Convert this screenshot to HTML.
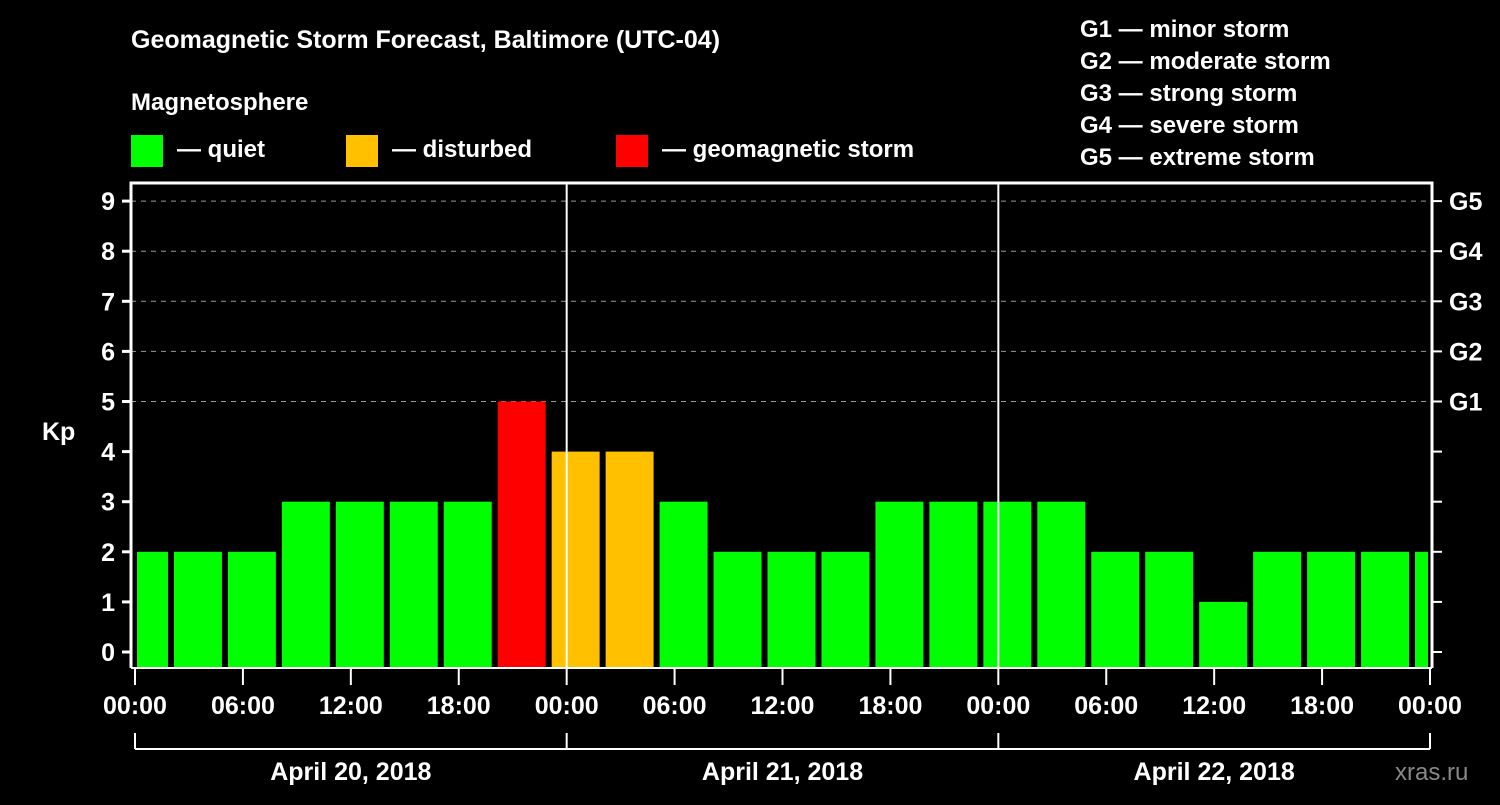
<!DOCTYPE html>
<html><head><meta charset="utf-8"><style>
body{margin:0;background:#000;width:1500px;height:800px;overflow:hidden}
svg text{font-family:"Liberation Sans",Arial,sans-serif;font-weight:bold;fill:#fff}
</style></head><body>
<svg id="chart" width="1500" height="800" xmlns="http://www.w3.org/2000/svg">
<text x="131" y="48" font-size="25">Geomagnetic Storm Forecast, Baltimore (UTC-04)</text>
<text x="131" y="110" font-size="24">Magnetosphere</text>
<g><rect x="131" y="135" width="32" height="32" fill="#00ff00"/><text x="177" y="157" font-size="24">— quiet</text></g>
<g><rect x="346" y="135" width="32" height="32" fill="#ffc000"/><text x="392" y="157" font-size="24">— disturbed</text></g>
<g><rect x="616" y="135" width="32" height="32" fill="#ff0000"/><text x="662" y="157" font-size="24">— geomagnetic storm</text></g>
<g font-size="24">
<text x="1080" y="37">G1 — minor storm</text>
<text x="1080" y="69">G2 — moderate storm</text>
<text x="1080" y="101">G3 — strong storm</text>
<text x="1080" y="133">G4 — severe storm</text>
<text x="1080" y="165">G5 — extreme storm</text>
</g>
<g id="grid"></g>
<g id="bars"></g>
<g id="axes"></g>
<text x="42" y="440" font-size="25">Kp</text>
<text x="1395" y="780" font-size="24" fill="#888" style="fill:#888;font-weight:normal">xras.ru</text>
</svg>
<script>
const kpValues=[2,2,2,3,3,3,3,5,4,4,3,2,2,2,3,3,3,3,2,2,1,2,2,2,2];
const yTicks=[0,1,2,3,4,5,6,7,8,9];
const gLabels=["G1","G2","G3","G4","G5"];
const xTickLabels=["00:00","06:00","12:00","18:00","00:00","06:00","12:00","18:00","00:00","06:00","12:00","18:00","00:00"];
const dateLabels=["April 20, 2018","April 21, 2018","April 22, 2018"];
const NS="http://www.w3.org/2000/svg";
const X0=135,X1=1430,HOURS=72;
const x=h=>X0+(X1-X0)*h/HOURS;
const y=v=>652-50.1*v;
const TOP=183,BOT=668,LEFT=131,RIGHT=1432;
function mk(tag,attrs,parent){const e=document.createElementNS(NS,tag);for(const k in attrs)e.setAttribute(k,attrs[k]);parent.appendChild(e);return e;}
const grid=document.getElementById('grid'),bars=document.getElementById('bars'),axes=document.getElementById('axes');
yTicks.forEach(v=>{if(v>=5){const l=mk('line',{x1:LEFT,x2:RIGHT,y1:y(v),y2:y(v),stroke:'#999','stroke-dasharray':'5,5','stroke-width':1},grid);

}});
kpValues.forEach((v,i)=>{const h0=-1+3*i;let xa=x(h0)+3,xb=x(h0+3)-3;xa=Math.max(xa,x(0)+2);xb=Math.min(xb,X1-2);
const c=v>=5?'#ff0000':(v>=4?'#ffc000':'#00ff00');
const r=mk('rect',{x:xa,y:y(v),width:xb-xa,height:BOT-y(v),fill:c},bars);

});
[24,48].forEach(h=>{const l=mk('line',{x1:x(h),x2:x(h),y1:TOP,y2:BOT,stroke:'#fff','stroke-width':2},axes);

});
const fr=mk('path',{d:`M${LEFT},${BOT}V${TOP}H${RIGHT}V${BOT}`,fill:'none',stroke:'#fff','stroke-width':3},axes);


mk('line',{x1:LEFT,x2:RIGHT,y1:BOT,y2:BOT,stroke:'#fff','stroke-width':2},axes);
yTicks.forEach(v=>{mk('line',{x1:122,x2:LEFT,y1:y(v),y2:y(v),stroke:'#fff','stroke-width':3},axes);
mk('line',{x1:RIGHT,x2:1442,y1:y(v),y2:y(v),stroke:'#fff','stroke-width':2},axes);
const t=mk('text',{x:115,y:y(v)+9,'text-anchor':'end','font-size':25},axes);t.textContent=v;

});
gLabels.forEach((g,i)=>{const t=mk('text',{x:1449,y:y(5+i)+9,'font-size':25},axes);t.textContent=g;

});
xTickLabels.forEach((s,i)=>{const h=i*6;mk('line',{x1:x(h),x2:x(h),y1:BOT,y2:685,stroke:'#fff','stroke-width':2},axes);
const t=mk('text',{x:x(h),y:714,'text-anchor':'middle','font-size':25},axes);t.textContent=s;

});
mk('line',{x1:x(0),x2:x(72),y1:749,y2:749,stroke:'#fff','stroke-width':2},axes);
[0,24,48,72].forEach(h=>mk('line',{x1:x(h),x2:x(h),y1:733,y2:749,stroke:'#fff','stroke-width':2},axes));
dateLabels.forEach((s,i)=>{const t=mk('text',{x:x(12+24*i),y:780,'text-anchor':'middle','font-size':25},axes);t.textContent=s;

});
</script>
</body></html>
